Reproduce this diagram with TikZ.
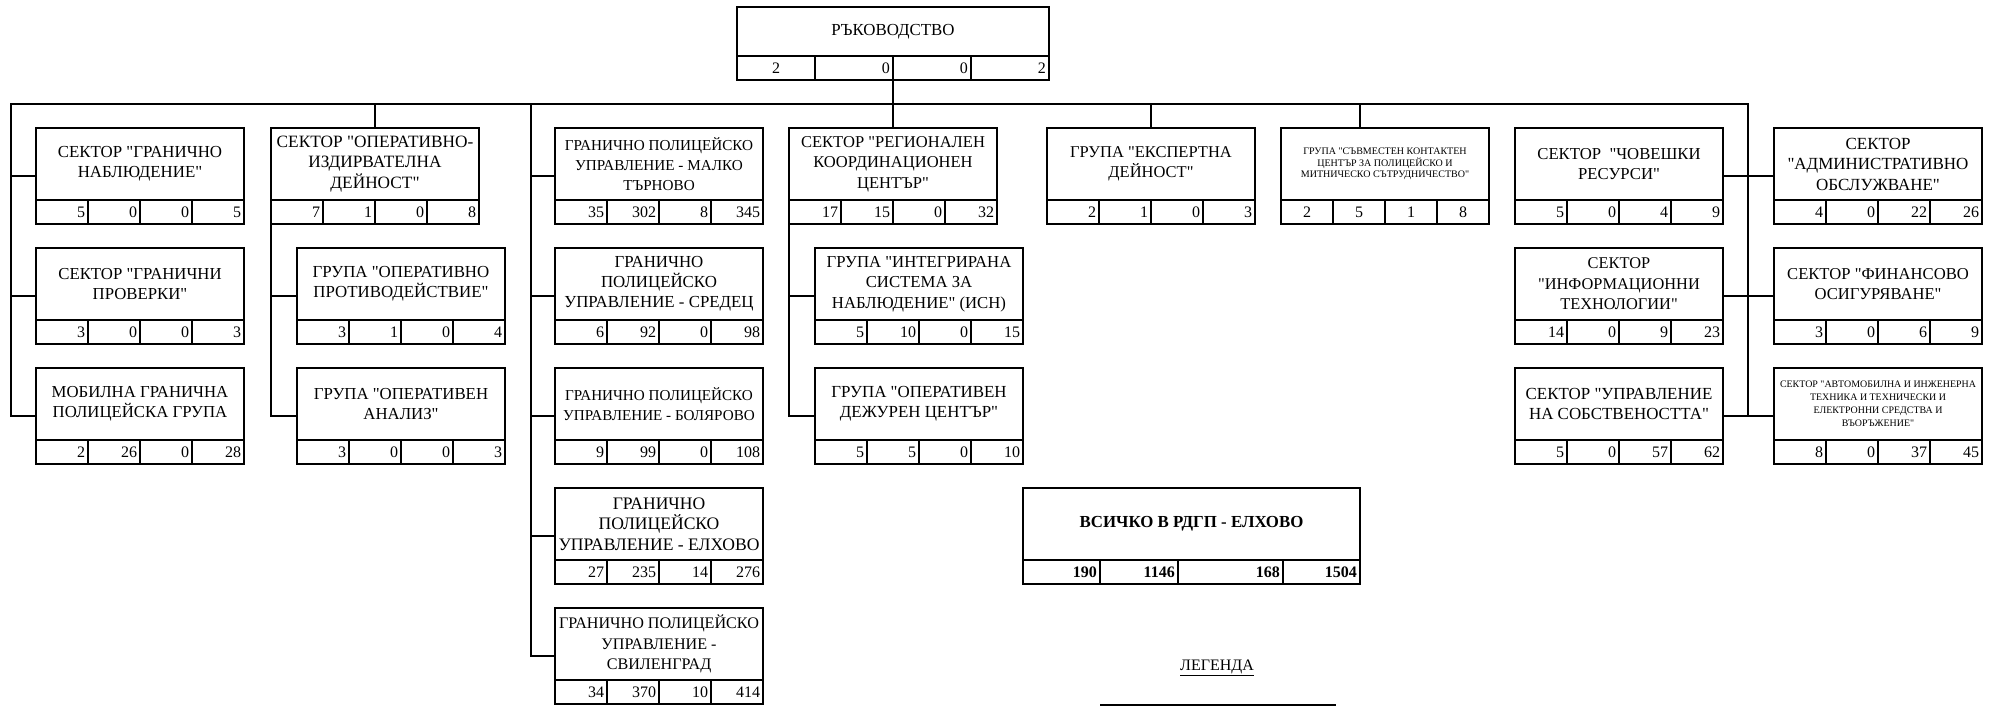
\documentclass[tikz,border=0pt]{standalone}
\usepackage{fontspec}
\newfontfamily\lib{Liberation Serif}
\usetikzlibrary{calc}
\newcommand\numfont{\lib\fontsize{16}{20}\selectfont}
\newlength\tmplen
\newsavebox\tmpbox
% \fitfont{target width}{text}{baselineskip}: size the font so the widest line has the target width
\newcommand\fitfont[3]{%
  \pgfinterruptpicture
  \global\setbox\tmpbox=\hbox{\lib\fontsize{10}{12}\selectfont\begin{tabular}{@{}c@{}}#2\end{tabular}}%
  \endpgfinterruptpicture
  \tmplen=\wd\tmpbox
  \pgfmathsetmacro\fitsz{10*#1/\tmplen}%
  \edef\curfont{\noexpand\lib\noexpand\fontsize{\fitsz}{#3}\noexpand\selectfont}%
}
\tikzset{
  boxouter/.style={draw, line width=1.8pt, anchor=north west, minimum width=208pt, minimum height=96pt, inner sep=0pt, outer sep=0pt},
  boxtext/.style={align=center, inner sep=0pt},
  divline/.style={line width=1.8pt},
  conn/.style={line width=1.8pt},
  numcell/.style={text width=46pt, align=right, inner sep=0pt, font=\numfont},
  numr/.style={anchor=east, inner sep=0pt, font=\numfont},
}
% \obox[text opts]{name}{x}{y}{widest line width}{baselineskip}{text}{n1,n2,n3,n4}
\newcommand\obox[8][]{%
  \fitfont{#5}{#7}{#6}%
  \node[boxouter] (#2) at (#3,#4) {};
  \node[boxtext, font=\curfont, #1] (#2-t) at ($(#2.north)+(0,36)$) {#7};
  \draw[divline] (#3,#4+72) -- (#3+208,#4+72);
  \foreach \k in {1,2,3} \draw[divline] (#3+52*\k,#4+72) -- (#3+52*\k,#4+96);
  \foreach \v [count=\i] in {#8} \node[numcell] (#2-n\i) at (#3+52*\i-26,#4+84) {\v};
}
\begin{document}
\begin{tikzpicture}[x=1pt,y=-1pt]
\useasboundingbox (0,0) rectangle (1998,706);
\clip (0,0) rectangle (1998,706);

% top box
\fitfont{123.3}{РЪКОВОДСТВО}{20}
\node[boxouter, minimum width=312pt, minimum height=73pt] (top) at (737,7) {};
\node[boxtext, font=\curfont] (top-t) at ($(top.north)+(0,24.5)$) {РЪКОВОДСТВО};
\draw[divline] (737,56) -- (1049,56);
\foreach \k in {1,2,3} \draw[divline] (737+78*\k,56) -- (737+78*\k,80);
\node[inner sep=0pt, font=\numfont] (top-a) at (776,68) {2};
\node[numr] (top-b) at (890,68) {0};
\node[numr] (top-c) at (968,68) {0};
\node[numr] (top-d) at (1046,68) {2};

% column 1
\obox{c1a}{36}{128}{164.3}{20}{СЕКТОР "ГРАНИЧНО\\НАБЛЮДЕНИЕ"}{5,0,0,5}
\obox{c1b}{36}{248}{163.3}{20}{СЕКТОР "ГРАНИЧНИ\\ПРОВЕРКИ"}{3,0,0,3}
\obox{c1c}{36}{368}{176.7}{20}{МОБИЛНА ГРАНИЧНА\\ПОЛИЦЕЙСКА ГРУПА}{2,26,0,28}
% column 2
\obox{c2a}{271}{128}{196.7}{20.5}{СЕКТОР "ОПЕРАТИВНО-\\ИЗДИРВАТЕЛНА\\ДЕЙНОСТ"}{7,1,0,8}
\obox{c2b}{297}{248}{176.7}{20}{ГРУПА "ОПЕРАТИВНО\\ПРОТИВОДЕЙСТВИЕ"}{3,1,0,4}
\obox{c2c}{297}{368}{174.3}{20}{ГРУПА "ОПЕРАТИВЕН\\АНАЛИЗ"}{3,0,0,3}
% column 3
\obox{c3a}{555}{128}{188.3}{20}{ГРАНИЧНО ПОЛИЦЕЙСКО\\УПРАВЛЕНИЕ - МАЛКО\\ТЪРНОВО}{35,302,8,345}
\obox{c3b}{555}{248}{189.3}{20}{ГРАНИЧНО\\ПОЛИЦЕЙСКО\\УПРАВЛЕНИЕ - СРЕДЕЦ}{6,92,0,98}
\obox{c3c}{555}{368}{191.7}{20}{ГРАНИЧНО ПОЛИЦЕЙСКО\\УПРАВЛЕНИЕ - БОЛЯРОВО}{9,99,0,108}
\obox{c3d}{555}{488}{201}{20.5}{ГРАНИЧНО\\ПОЛИЦЕЙСКО\\УПРАВЛЕНИЕ - ЕЛХОВО}{27,235,14,276}
\obox{c3e}{555}{608}{200}{20.5}{ГРАНИЧНО ПОЛИЦЕЙСКО\\УПРАВЛЕНИЕ -\\СВИЛЕНГРАД}{34,370,10,414}
% column 4
\obox{c4a}{789}{128}{184}{20.5}{СЕКТОР "РЕГИОНАЛЕН\\КООРДИНАЦИОНЕН\\ЦЕНТЪР"}{17,15,0,32}
\obox{c4b}{815}{248}{184.7}{20.5}{ГРУПА "ИНТЕГРИРАНА\\СИСТЕМА ЗА\\НАБЛЮДЕНИЕ" (ИСН)}{5,10,0,15}
\obox{c4c}{815}{368}{175.3}{20}{ГРУПА "ОПЕРАТИВЕН\\ДЕЖУРЕН ЦЕНТЪР"}{5,5,0,10}
% column 5, 6
\obox{c5}{1047}{128}{161.7}{20}{ГРУПА "ЕКСПЕРТНА\\ДЕЙНОСТ"}{2,1,0,3}
\begin{scope}[numcell/.append style={align=center}]
\obox{c6}{1281}{128}{168.3}{11.7}{ГРУПА "СЪВМЕСТЕН КОНТАКТЕН\\ЦЕНТЪР ЗА ПОЛИЦЕЙСКО И\\МИТНИЧЕСКО СЪТРУДНИЧЕСТВО"}{2,5,1,8}
\end{scope}
% column 7
\obox{c7a}{1515}{128}{163.3}{20}{СЕКТОР\ \ "ЧОВЕШКИ\\РЕСУРСИ"}{5,0,4,9}
\obox{c7b}{1515}{248}{161.7}{20.5}{СЕКТОР\\"ИНФОРМАЦИОННИ\\ТЕХНОЛОГИИ"}{14,0,9,23}
\obox{c7c}{1515}{368}{186.7}{20}{СЕКТОР "УПРАВЛЕНИЕ\\НА СОБСТВЕНОСТТА"}{5,0,57,62}
% column 8
\obox{c8a}{1774}{128}{181}{20.5}{СЕКТОР\\"АДМИНИСТРАТИВНО\\ОБСЛУЖВАНЕ"}{4,0,22,26}
\obox{c8b}{1774}{248}{181.7}{20}{СЕКТОР "ФИНАНСОВО\\ОСИГУРЯВАНЕ"}{3,0,6,9}
\obox{c8c}{1774}{368}{196}{13}{СЕКТОР "АВТОМОБИЛНА И ИНЖЕНЕРНА\\ТЕХНИКА И ТЕХНИЧЕСКИ И\\ЕЛЕКТРОННИ СРЕДСТВА И\\ВЪОРЪЖЕНИЕ"}{8,0,37,45}

% total
\fitfont{223.7}{\bfseries ВСИЧКО В РДГП - ЕЛХОВО}{20}
\node[boxouter, minimum width=337pt, minimum height=96pt] (total) at (1023,488) {};
\node[boxtext, font=\curfont\bfseries] (total-t) at ($(total.north)+(0,36)$) {ВСИЧКО В РДГП - ЕЛХОВО};
\draw[divline] (1023,560) -- (1360,560);
\foreach \xx in {1100,1178,1283} \draw[divline] (\xx,560) -- (\xx,584);
\node[numr, font=\numfont\bfseries] (total-a) at (1097,572) {190};
\node[numr, font=\numfont\bfseries] (total-b) at (1175,572) {1146};
\node[numr, font=\numfont\bfseries] (total-c) at (1280,572) {168};
\node[numr, font=\numfont\bfseries] (total-d) at (1357,572) {1504};

% legend
\node[font=\numfont, inner sep=0pt] (leg) at (1217,668) {\underline{ЛЕГЕНДА}};
\node[draw, line width=1.8pt, anchor=north west, minimum width=234pt, minimum height=60pt, inner sep=0pt] (legbox) at (1100,704) {};

% connectors
\coordinate (L) at (11,104);
\coordinate (R) at (1748,104);
\coordinate (S3) at (531,104);
\coordinate (D6) at (1360,104);
\draw[conn] (c1c.west) -| (L) -- (R) |- (c8c.west);
\draw[conn] (top.south) -- (top.south |- L);
\draw[conn] (c1a.west -| L) -- (c1a.west);
\draw[conn] (c1b.west -| L) -- (c1b.west);
\draw[conn] (c2a.north |- L) -- (c2a.north);
\draw[conn] (c2a.south west) |- (c2c.west);
\draw[conn] (c2b.west -| c2a.south west) -- (c2b.west);
\draw[conn] (S3) |- (c3e.west);
\foreach \n in {c3a,c3b,c3c,c3d} \draw[conn] (\n.west -| S3) -- (\n.west);
\draw[conn] (c4a.north |- L) -- (c4a.north);
\draw[conn] (c4a.south west) |- (c4c.west);
\draw[conn] (c4b.west -| c4a.south west) -- (c4b.west);
\draw[conn] (c5.north |- L) -- (c5.north);
\draw[conn] (D6) -- (D6 |- c6.north);
\draw[conn] (c7a.east) -- (c8a.west);
\draw[conn] (c7b.east) -- (c8b.west);
\draw[conn] (c7c.east) -- (R |- c7c.east);
\end{tikzpicture}
\end{document}
